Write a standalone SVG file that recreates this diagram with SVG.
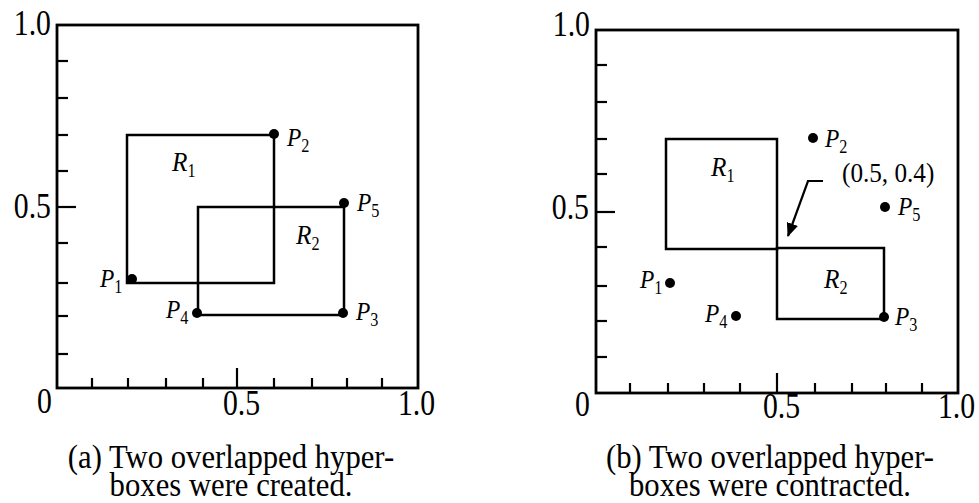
<svg xmlns="http://www.w3.org/2000/svg" width="979" height="503" viewBox="0 0 979 503">
<defs>
<style>
.frame{fill:none;stroke:#000;stroke-width:2.8}
.box{fill:none;stroke:#000;stroke-width:2.5}
.tick{stroke:#000;stroke-width:2.2}
.num{font-family:"Liberation Serif","Times New Roman",serif;font-size:35px;fill:#000}
.lab{font-family:"Liberation Serif","Times New Roman",serif;font-size:26px;font-style:italic;fill:#000}
.rl{font-size:28px}
.sub{font-size:18px;font-style:normal}
.cap{font-family:"Liberation Serif","Times New Roman",serif;font-size:33px;fill:#000;text-anchor:middle}
.coord{font-family:"Liberation Serif","Times New Roman",serif;font-size:28px;fill:#000}
</style>
<marker id="ah" viewBox="0 0 12 10" refX="11" refY="5" markerWidth="14" markerHeight="12" markerUnits="userSpaceOnUse" orient="auto">
<path d="M0,0 L12,5 L0,10 z" fill="#000"/>
</marker>
</defs>
<rect width="979" height="503" fill="#fff"/>

<g id="panel-a">
<rect class="frame" x="57" y="25" width="361" height="363"/>
<g class="tick">
<line x1="57" y1="61" x2="68" y2="61"/><line x1="57" y1="98" x2="68" y2="98"/><line x1="57" y1="135" x2="68" y2="135"/><line x1="57" y1="171" x2="68" y2="171"/><line x1="57" y1="207" x2="76" y2="207"/><line x1="57" y1="243" x2="68" y2="243"/><line x1="57" y1="283" x2="68" y2="283"/><line x1="57" y1="316" x2="68" y2="316"/><line x1="57" y1="354" x2="68" y2="354"/>
<line x1="92" y1="388" x2="92" y2="378"/><line x1="128" y1="388" x2="128" y2="378"/><line x1="166" y1="388" x2="166" y2="378"/><line x1="203" y1="388" x2="203" y2="378"/><line x1="237" y1="388" x2="237" y2="368"/><line x1="274" y1="388" x2="274" y2="378"/><line x1="312" y1="388" x2="312" y2="378"/><line x1="347" y1="388" x2="347" y2="378"/><line x1="382" y1="388" x2="382" y2="378"/>
</g>
<text class="num" transform="translate(51,35) scale(0.85,1)" text-anchor="end">1.0</text>
<text class="num" transform="translate(51,218) scale(0.85,1)" text-anchor="end">0.5</text>
<text class="num" transform="translate(37,413) scale(0.85,1)">0</text>
<text class="num" transform="translate(223,415) scale(0.85,1)">0.5</text>
<text class="num" transform="translate(398,415) scale(0.85,1)">1.0</text>
<g id="a-R1"><rect class="box" x="127" y="135" width="147" height="148"/><text class="lab rl" transform="translate(172,171) scale(0.9,1)">R<tspan class="sub" dy="6">1</tspan></text></g>
<g id="a-R2"><rect class="box" x="198" y="207" width="146" height="108"/><text class="lab rl" transform="translate(296,244) scale(0.9,1)">R<tspan class="sub" dy="6">2</tspan></text></g>
<g id="a-P1"><circle cx="132" cy="279" r="5"/><text class="lab" transform="translate(100,287) scale(0.9,1)">P<tspan class="sub" dy="6">1</tspan></text></g>
<g id="a-P2"><circle cx="274" cy="134" r="5"/><text class="lab" transform="translate(287,146) scale(0.9,1)">P<tspan class="sub" dy="6">2</tspan></text></g>
<g id="a-P3"><circle cx="343" cy="313" r="5"/><text class="lab" transform="translate(356,320) scale(0.9,1)">P<tspan class="sub" dy="6">3</tspan></text></g>
<g id="a-P4"><circle cx="197" cy="313" r="5"/><text class="lab" transform="translate(166,318) scale(0.9,1)">P<tspan class="sub" dy="6">4</tspan></text></g>
<g id="a-P5"><circle cx="344" cy="203" r="5"/><text class="lab" transform="translate(357,211) scale(0.9,1)">P<tspan class="sub" dy="6">5</tspan></text></g>
<text class="cap" transform="translate(231,468) scale(0.93,1)">(a) Two overlapped hyper-</text>
<text class="cap" transform="translate(231,496) scale(0.93,1)">boxes were created.</text>
</g>

<g id="panel-b">
<rect class="frame" x="596" y="30" width="362" height="363"/>
<g class="tick">
<line x1="596" y1="65" x2="607" y2="65"/><line x1="596" y1="102" x2="607" y2="102"/><line x1="596" y1="139" x2="607" y2="139"/><line x1="596" y1="174" x2="607" y2="174"/><line x1="596" y1="212" x2="615" y2="212"/><line x1="596" y1="247" x2="607" y2="247"/><line x1="596" y1="286" x2="607" y2="286"/><line x1="596" y1="321" x2="607" y2="321"/><line x1="596" y1="357" x2="607" y2="357"/>
<line x1="630" y1="393" x2="630" y2="383"/><line x1="668" y1="393" x2="668" y2="383"/><line x1="704" y1="393" x2="704" y2="383"/><line x1="740" y1="393" x2="740" y2="383"/><line x1="777" y1="393" x2="777" y2="373"/><line x1="815" y1="393" x2="815" y2="383"/><line x1="852" y1="393" x2="852" y2="383"/><line x1="886" y1="393" x2="886" y2="383"/><line x1="922" y1="393" x2="922" y2="383"/>
</g>
<text class="num" transform="translate(590,36) scale(0.85,1)" text-anchor="end">1.0</text>
<text class="num" transform="translate(589,219) scale(0.85,1)" text-anchor="end">0.5</text>
<text class="num" transform="translate(575,416) scale(0.85,1)">0</text>
<text class="num" transform="translate(763,418) scale(0.85,1)">0.5</text>
<text class="num" transform="translate(938,418) scale(0.85,1)">1.0</text>
<g id="b-R1"><rect class="box" x="666" y="139" width="111" height="110"/><text class="lab rl" transform="translate(711,176) scale(0.9,1)">R<tspan class="sub" dy="6">1</tspan></text></g>
<g id="b-R2"><rect class="box" x="777" y="248" width="107" height="71"/><text class="lab rl" transform="translate(824,288) scale(0.9,1)">R<tspan class="sub" dy="6">2</tspan></text></g>
<g id="b-P1"><circle cx="670" cy="283" r="5"/><text class="lab" transform="translate(640,288) scale(0.9,1)">P<tspan class="sub" dy="6">1</tspan></text></g>
<g id="b-P2"><circle cx="813" cy="138" r="5"/><text class="lab" transform="translate(825,147) scale(0.9,1)">P<tspan class="sub" dy="6">2</tspan></text></g>
<g id="b-P3"><circle cx="884" cy="317" r="5"/><text class="lab" transform="translate(895,325) scale(0.9,1)">P<tspan class="sub" dy="6">3</tspan></text></g>
<g id="b-P4"><circle cx="736" cy="316" r="5"/><text class="lab" transform="translate(705,322) scale(0.9,1)">P<tspan class="sub" dy="6">4</tspan></text></g>
<g id="b-P5"><circle cx="885" cy="207" r="5"/><text class="lab" transform="translate(898,215) scale(0.9,1)">P<tspan class="sub" dy="6">5</tspan></text></g>
<g id="b-coord"><text class="coord" transform="translate(842,182) scale(0.9,1)">(0.5, 0.4)</text></g>
<text class="cap" transform="translate(770,468) scale(0.93,1)">(b) Two overlapped hyper-</text>
<text class="cap" transform="translate(770,496) scale(0.93,1)">boxes were contracted.</text>
</g>

<g id="connectors">
<polyline points="823,181 808,181 788,236" fill="none" stroke="#000" stroke-width="2.2" marker-end="url(#ah)"/>
</g>
</svg>
